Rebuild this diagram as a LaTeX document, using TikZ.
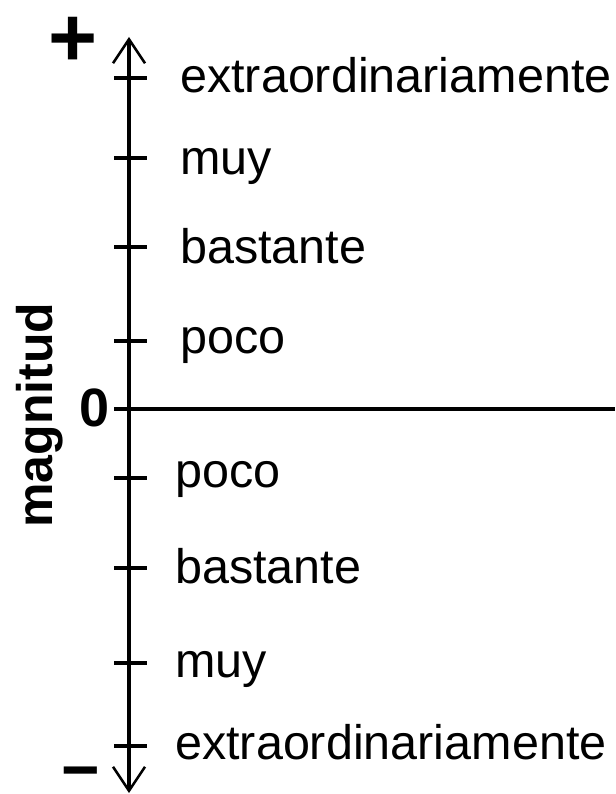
\documentclass[tikz,border=0pt]{standalone}
\usepackage{fontspec}
\setmainfont{Liberation Sans}
\usetikzlibrary{arrows.meta}

\begin{document}
\begin{tikzpicture}[x=1pt, y=-1pt, >={Straight Barb[length=24pt,width=32pt,line width=2.5pt]},
        grado/.style={anchor=base west, inner sep=0pt, font=\fontsize{48.5}{50}\selectfont},
        marca/.style={line width=4.3pt},
        signo/.style={inner sep=0pt, font=\bfseries\fontsize{#1}{#1}\selectfont}]

        \useasboundingbox (0,0) rectangle (615,794);

        % eje vertical y linea del cero
        \coordinate (arriba)  at (129,37);
        \coordinate (abajo)   at (129,793);
        \coordinate (cero)    at (114,409);
        \coordinate (derecha) at (615,409);
        \draw[<->, marca] (abajo) -- (arriba);
        \draw[marca] (cero) -- (derecha);

        % marcas
        \foreach \y [count=\i] in {78,158,247,341,478,568,663,746} {
                \coordinate (ml\i) at (114,\y);
                \coordinate (mr\i) at (147,\y);
                \draw[marca] (ml\i) -- (mr\i);
        }

        % grados
        \node[grado] (E1) at (180,93)  {extraordinariamente};
        \node[grado] (M1) at (180,175) {muy};
        \node[grado] (B1) at (180,263) {bastante};
        \node[grado] (P1) at (180,353) {poco};
        \node[grado] (P2) at (175,487) {poco};
        \node[grado] (B2) at (175,583) {bastante};
        \node[grado] (M2) at (175,677) {muy};
        \node[grado] (E2) at (175,759) {extraordinariamente};

        % signos y titulo
        \node[signo=84] (mas)   at (73,42)  {+};
        \node[signo=66] (menos) at (81,780) {−};
        \node[signo=54] (nulo)  at (95,408) {0};
        \node[signo=50, rotate=90] (titulo) at (40,415) {magnitud};

\end{tikzpicture}
\end{document}
